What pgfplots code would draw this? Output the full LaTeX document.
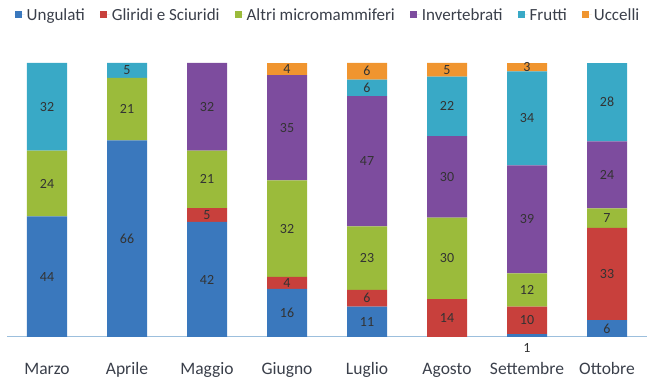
\documentclass[border=0pt]{standalone}
\usepackage{fontspec}
\setmainfont{Carlito}
\usepackage{pgfplots}
\usepackage{pgfplotstable}
\pgfplotsset{compat=1.18}

\definecolor{cU}{HTML}{3A78BD}
\definecolor{cG}{HTML}{C8403C}
\definecolor{cA}{HTML}{9BBB3B}
\definecolor{cI}{HTML}{7D4C9E}
\definecolor{cF}{HTML}{39A9C6}
\definecolor{cC}{HTML}{F0952F}
\definecolor{baseline}{HTML}{9CBFDD}
\definecolor{txt}{HTML}{3A3F4A}

% counts per month: Ungulati, Gliridi e Sciuridi, Altri micromammiferi,
% Invertebrati, Frutti, Uccelli
\pgfplotstableread{
x U G A I F C
0 44 0 24 0 32 0
1 66 0 21 0 5 0
2 42 5 21 32 0 0
3 16 4 32 35 0 4
4 11 6 23 47 6 6
5 0 14 30 30 22 5
6 1 10 12 39 34 3
7 6 33 7 24 28 0
}\diet
% share of each category within its month (100% stacked)
\pgfplotstablecreatecol[expr={\thisrow{U}+\thisrow{G}+\thisrow{A}+\thisrow{I}+\thisrow{F}+\thisrow{C}}]{T}\diet
\pgfplotstablecreatecol[expr={100*\thisrow{U}/\thisrow{T}}]{pU}\diet
\pgfplotstablecreatecol[expr={100*\thisrow{G}/\thisrow{T}}]{pG}\diet
\pgfplotstablecreatecol[expr={100*\thisrow{A}/\thisrow{T}}]{pA}\diet
\pgfplotstablecreatecol[expr={100*\thisrow{I}/\thisrow{T}}]{pI}\diet
\pgfplotstablecreatecol[expr={100*\thisrow{F}/\thisrow{T}}]{pF}\diet
\pgfplotstablecreatecol[expr={100*\thisrow{C}/\thisrow{T}}]{pC}\diet

\begin{document}
\begin{tikzpicture}
\path[use as bounding box] (-7pt,-42pt) rectangle (656pt,337pt);
\begin{axis}[
  at={(0,0)}, anchor=south west,
  scale only axis,
  width=640pt, height=274pt,
  ybar stacked,
  bar width=40pt,
  xmin=-0.5, xmax=7.5,
  ymin=0, ymax=100,
  axis y line=none,
  axis x line*=bottom,
  x axis line style={draw=baseline, line width=1pt, -},
  xtick=data,
  xticklabels={Marzo,Aprile,Maggio,Giugno,Luglio,Agosto,Settembre,Ottobre},
  major tick length=0pt,
  xticklabel style={anchor=base, yshift=-38pt, text=txt,
    font=\fontsize{17.5}{18}\selectfont},
  /pgf/number format/assume math mode=true,
  point meta=explicit,
  nodes near coords={\pgfmathfloatifflags{\pgfplotspointmeta}{0}{}{\pgfmathprintnumber{\pgfplotspointmeta}}},
  visualization depends on=rawy \as \rawy,
  % labels sit centred in their segment; a very thin one gets its label below the bar
  every node near coord/.append style={anchor=center, text=black!80,
    font=\fontsize{14}{14}\selectfont,
    yshift={(\rawy<2) ? (-12) : (0)}},
  legend columns=6,
  legend style={at={(0.5,1)}, anchor=center, yshift=48pt, xshift=1pt,
    draw=none, fill=none, font=\fontsize{17}{18}\selectfont,
    text=txt,
    /tikz/every even column/.append style={column sep=13pt}},
  legend image code/.code={\fill[#1] (0pt,-3.5pt) rectangle (7pt,3.5pt);
    \path (0pt,0pt) -- (10pt,0pt);},
]
\addplot[fill=cU, draw=none] table[x=x, y=pU, meta=U] {\diet};
\addplot[fill=cG, draw=none] table[x=x, y=pG, meta=G] {\diet};
\addplot[fill=cA, draw=none] table[x=x, y=pA, meta=A] {\diet};
\addplot[fill=cI, draw=none] table[x=x, y=pI, meta=I] {\diet};
\addplot[fill=cF, draw=none] table[x=x, y=pF, meta=F] {\diet};
\addplot[fill=cC, draw=none] table[x=x, y=pC, meta=C] {\diet};
\legend{Ungulati, Gliridi e Sciuridi, Altri micromammiferi, Invertebrati, Frutti, Uccelli}
\end{axis}
\end{tikzpicture}
\end{document}
